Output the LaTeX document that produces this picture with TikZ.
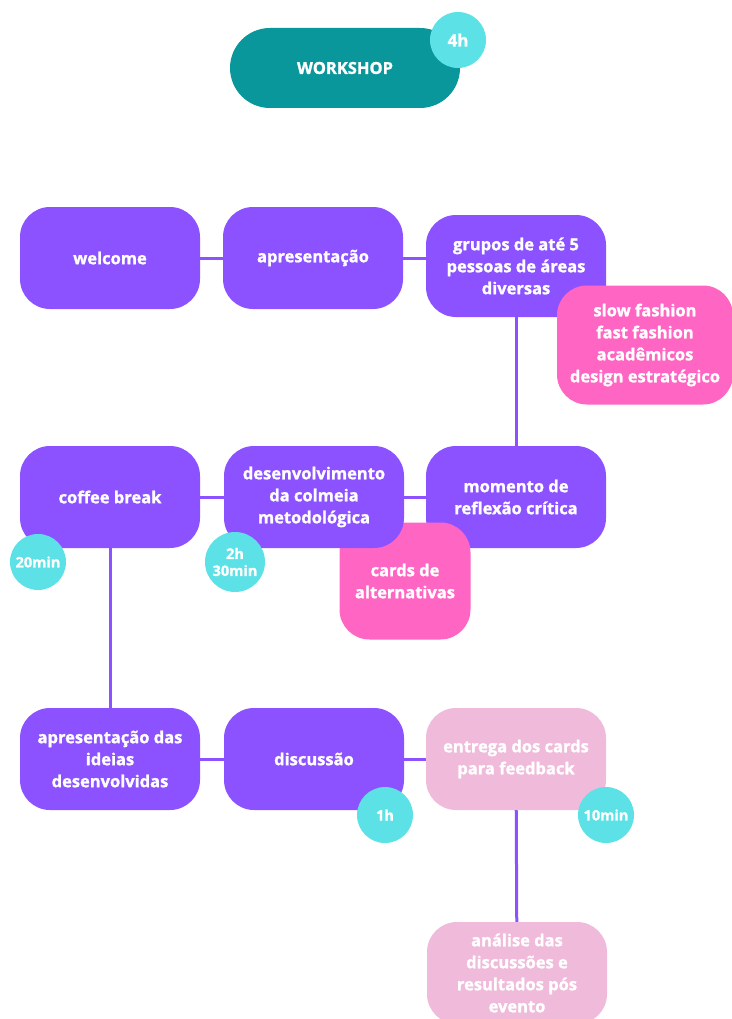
\documentclass[tikz,border=0pt]{standalone}
\usepackage{fontspec}
\setmainfont[BoldFeatures={FakeBold=1.3}]{Open Sans}
\usetikzlibrary{positioning}
\definecolor{wsteal}{HTML}{0A979B}
\definecolor{wspurple}{HTML}{8C52FF}
\definecolor{wspink}{HTML}{FF66C4}
\definecolor{wslight}{HTML}{F0BBDA}
\definecolor{wscyan}{HTML}{5CE1E6}
\begin{document}
\begin{tikzpicture}[x=1pt, y=-1pt,
  box/.style={rectangle, rounded corners=30pt, minimum width=180pt, minimum height=102pt, inner sep=0pt, align=center, text=white, font=\bfseries\fontsize{16.5}{22}\selectfont},
  stage/.style={box, fill=wspurple},
  extra/.style={box, fill=wspink},
  later/.style={box, fill=wslight},
  timer/.style={circle, fill=wscyan, minimum size=56pt, inner sep=0pt, align=center, text=white, font=\bfseries\fontsize{14.5}{17}\selectfont},
  link/.style={wspurple, line width=3pt}]
\useasboundingbox (0,0) rectangle (731,1019);

% workshop
\node[box, fill=wsteal, minimum width=230pt, minimum height=80pt, rounded corners=40pt, font=\bfseries\fontsize{16.5}{18}\selectfont] (workshop) at (345,68) {WORKSHOP};
\node[timer, font=\bfseries\fontsize{17}{18}\selectfont] (t4h) at (458,40) {4h};

% first row
\node[stage] (welcome) at (110,258) {welcome};
\node[stage] (apres) at (313,258) {apresentação};
\node[stage] (grupos) at (516,266) {grupos de até 5\\pessoas de áreas\\diversas};
\node[extra, minimum width=176pt, minimum height=119pt] (areas) at (645,345) {slow fashion\\fast fashion\\acadêmicos\\design estratégico};

% second row
\node[stage] (momento) at (516,497) {momento de\\reflexão crítica};
\node[extra, minimum width=131pt, minimum height=117pt] (cards) at (405,581) {cards de\\alternativas};
\node[stage] (colmeia) at (314,497) {desenvolvimento\\da colmeia\\metodológica};
\node[stage] (coffee) at (110,497) {coffee break};
\node[timer] (t20) at (38,562) {20min};
\node[timer, minimum size=60pt] (t230) at (235,562) {2h\\30min};

% third row
\node[stage] (ideias) at (110,759) {apresentação das\\ideias\\desenvolvidas};
\node[stage] (discussao) at (314,759) {discussão};
\node[later] (entrega) at (516,759) {entrega dos cards\\para feedback};
\node[later] (analise) at (517,973) {análise das\\discussões e\\resultados pós\\evento};
\node[timer] (t1h) at (385,815) {1h};
\node[timer] (t10) at (606,815) {10min};

% connectors
\draw[link] (welcome) -- (apres);
\draw[link] (apres.east) -- (apres.east -| grupos.west);
\draw[link] (grupos) -- (momento);
\draw[link] (momento) -- (colmeia);
\draw[link] (colmeia) -- (coffee);
\draw[link] (coffee) -- (ideias);
\draw[link] (ideias) -- (discussao);
\draw[link] (discussao) -- (entrega);
\draw[link] (entrega) -- (analise);
\end{tikzpicture}
\end{document}
